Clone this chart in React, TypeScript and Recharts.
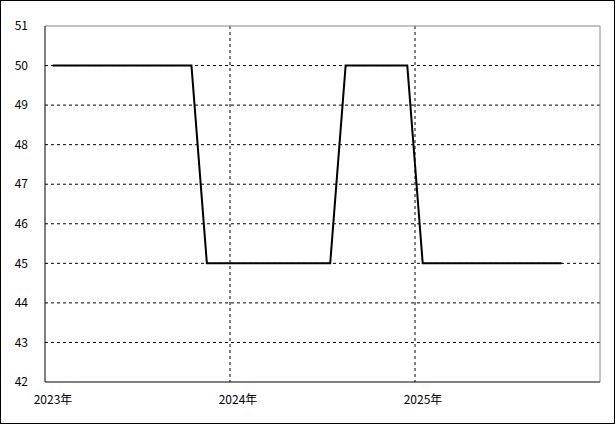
import React from 'react';
import {
  LineChart,
  Line,
  XAxis,
  YAxis,
  CartesianGrid,
  ReferenceLine,
} from 'recharts';

// monthly values, Jan 2023 .. Oct 2025
const monthIndex = [
  0, 1, 2, 3, 4, 5, 6, 7, 8, 9, 10, 11, 12, 13, 14, 15, 16, 17, 18, 19, 20, 21,
  22, 23, 24, 25, 26, 27, 28, 29, 30, 31, 32, 33,
];
const values = [
  50, 50, 50, 50, 50, 50, 50, 50, 50, 50, 45, 45, 45, 45, 45, 45, 45, 45, 45,
  50, 50, 50, 50, 50, 45, 45, 45, 45, 45, 45, 45, 45, 45, 45,
];
const yearTicks = [-0.5, 11.5, 23.5];
const yearLabels = ['2023年', '2024年', '2025年'];
const yTicks = [42, 43, 44, 45, 46, 47, 48, 49, 50, 51];
const gridValues = [43, 44, 45, 46, 47, 48, 49, 50];

const data = monthIndex.map((m, i) => ({ m, v: values[i] }));

const font = '"Noto Sans CJK JP", "Liberation Sans", sans-serif';

const YearTick = ({ x, y, payload }: any) => {
  const idx = yearTicks.indexOf(payload.value);
  return (
    <text
      x={x + 8}
      y={y + 14}
      textAnchor="middle"
      fill="#000"
      fontSize={12}
      fontFamily={font}
    >
      {yearLabels[idx]}
    </text>
  );
};

export default function App() {
  return (
    <div style={{ position: 'absolute', left: 0, top: 0, width: 615, height: 424, background: '#fff' }}>
      <LineChart
        width={615}
        height={424}
        data={data}
        margin={{ top: 26, right: 15, bottom: 12, left: 0 }}
      >
        <CartesianGrid
          stroke="#000"
          strokeDasharray="3 3"
          horizontalValues={gridValues}
          verticalValues={[11.5, 23.5]}
        />
        <ReferenceLine y={51} stroke="#888" />
        <ReferenceLine x={35.5} stroke="#888" />
        <XAxis
          dataKey="m"
          type="number"
          domain={[-0.5, 35.5]}
          ticks={yearTicks}
          tick={<YearTick />}
          tickLine={false}
          axisLine={{ stroke: '#000' }}
          height={30}
        />
        <YAxis
          domain={[42, 51]}
          ticks={yTicks}
          interval={0}
          width={45}
          tickLine={false}
          tickMargin={11}
          axisLine={{ stroke: '#000' }}
          tick={{ fill: '#000', fontSize: 12, fontFamily: font }}
        />
        <Line
          dataKey="v"
          type="linear"
          stroke="#000"
          strokeWidth={2}
          dot={false}
          isAnimationActive={false}
        />
      </LineChart>
      <div
        style={{
          position: 'absolute',
          inset: 0,
          border: '1px solid #000',
          pointerEvents: 'none',
        }}
      />
    </div>
  );
}
